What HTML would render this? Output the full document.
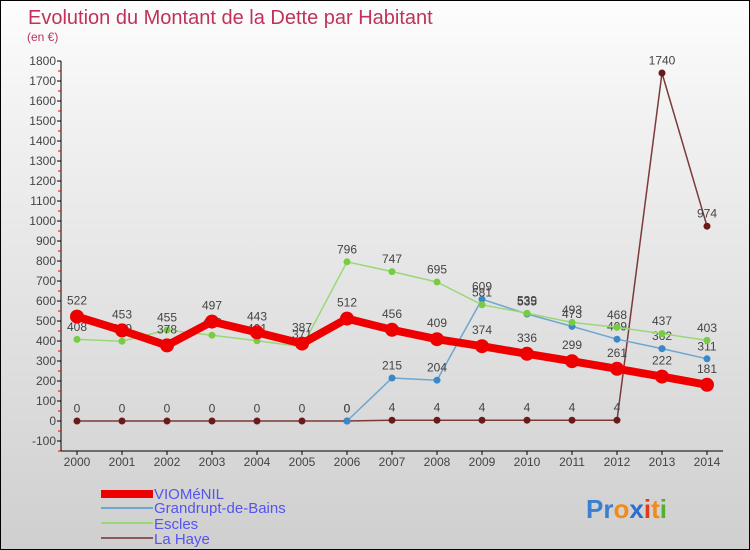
<!DOCTYPE html>
<html><head><meta charset="utf-8"><style>
html,body{margin:0;padding:0}
body{width:750px;height:550px;overflow:hidden;font-family:"Liberation Sans",sans-serif}
#wrap{position:relative;width:748px;height:548px;border:1px solid #000;background:linear-gradient(#fdfdfd,#f2f2f2 20%,#d8d8d8 80%,#cfcfcf)}
</style></head><body>
<div id="wrap">
<svg id="chart" width="748" height="548" style="position:absolute;left:0;top:0">
<text x="27" y="23" font-size="20" fill="#c0325a">Evolution du Montant de la Dette par Habitant</text>
<text x="26" y="40" font-size="12" fill="#c0325a">(en €)</text>
<g id="axes"></g><g id="series"></g>
<g font-size="15" fill="#5555ee">
<rect x="100" y="489" width="52" height="8" fill="#ee0000"/>
<text x="153" y="498">VIOMéNIL</text>
<rect x="100" y="506" width="52" height="2" fill="#6ea6d0"/>
<text x="153" y="512">Grandrupt-de-Bains</text>
<rect x="100" y="521" width="52" height="2" fill="#99d877"/>
<text x="153" y="528">Escles</text>
<rect x="100" y="536" width="52" height="2" fill="#8a5a5a"/>
<text x="153" y="543">La Haye</text>
</g>
<text x="585" y="517" font-size="26" font-weight="bold"><tspan fill="#3b7fd0">Pr</tspan><tspan fill="#f08a1a">o</tspan><tspan fill="#2a6fd0">x</tspan><tspan fill="#e03a1a">i</tspan><tspan fill="#f08a1a">t</tspan><tspan fill="#55b030">i</tspan></text>
</svg>
</div>
<script>
const years=[2000,2001,2002,2003,2004,2005,2006,2007,2008,2009,2010,2011,2012,2013,2014];
const yTicks=[-100,0,100,200,300,400,500,600,700,800,900,1000,1100,1200,1300,1400,1500,1600,1700,1800];
const viomenil=[522,453,378,497,443,387,512,456,409,374,336,299,261,222,181];
const grandrupt=[null,null,null,null,null,null,0,215,204,609,535,473,409,362,311];
const escles=[408,399,455,429,401,371,796,747,695,581,539,493,468,437,403];
const laHaye=[0,0,0,0,0,0,0,4,4,4,4,4,4,1740,974];
const NS='http://www.w3.org/2000/svg';
const xS=i=>76+i*45;
const yS=v=>420-v*0.2;
function mk(tag,attrs,parent){const e=document.createElementNS(NS,tag);for(const k in attrs)e.setAttribute(k,attrs[k]);parent.appendChild(e);return e;}
const axes=document.getElementById('axes'),ser=document.getElementById('series');
let a=mk('line',{x1:60,y1:60,x2:60,y2:450,stroke:'#000'},axes);


a=mk('line',{x1:60,y1:450,x2:722,y2:450,stroke:'#000'},axes);


yTicks.forEach(v=>{
 const y=yS(v);
 mk('line',{x1:56,y1:y,x2:60,y2:y,stroke:'#000'},axes);
 mk('line',{x1:57,y1:y+10,x2:60,y2:y+10,stroke:'#e00'},axes);
 const t=mk('text',{x:55,y:y+4,'text-anchor':'end','font-size':12,fill:'#444'},axes);
 t.textContent=v;
 
 
});
years.forEach((yr,i)=>{
 const x=xS(i);
 mk('line',{x1:x,y1:450,x2:x,y2:454,stroke:'#000'},axes);
 const t=mk('text',{x:x,y:465,'text-anchor':'middle','font-size':12,fill:'#444'},axes);
 t.textContent=yr;
 
 
});
function draw(vals,name,color,w,r,dot){
 const g=mk('g',{},ser);
 
 
 let pts=[];vals.forEach((v,i)=>{if(v!==null)pts.push(xS(i)+','+yS(v));});
 mk('polyline',{points:pts.join(' '),fill:'none',stroke:color,'stroke-width':w,'stroke-linejoin':'round'},g);
 vals.forEach((v,i)=>{if(v===null)return;
  const c=mk('circle',{cx:xS(i),cy:yS(v),r:r,fill:dot},g);
  
  
  const t=mk('text',{x:xS(i),y:yS(v)-r-5,'text-anchor':'middle','font-size':12,fill:'#444'},g);
  t.textContent=v;
  
  
 });
}
draw(laHaye,'la-haye','#7a3a3a',1.5,3.5,'#6a1a1a');
draw(grandrupt,'grandrupt','#6ea6d0',1.5,3.5,'#3a88c8');
draw(escles,'escles','#99d877',1.5,3.5,'#77cc44');
draw(viomenil,'viomenil','#ee0000',8,7,'#ee0000');
</script>
</body></html>
